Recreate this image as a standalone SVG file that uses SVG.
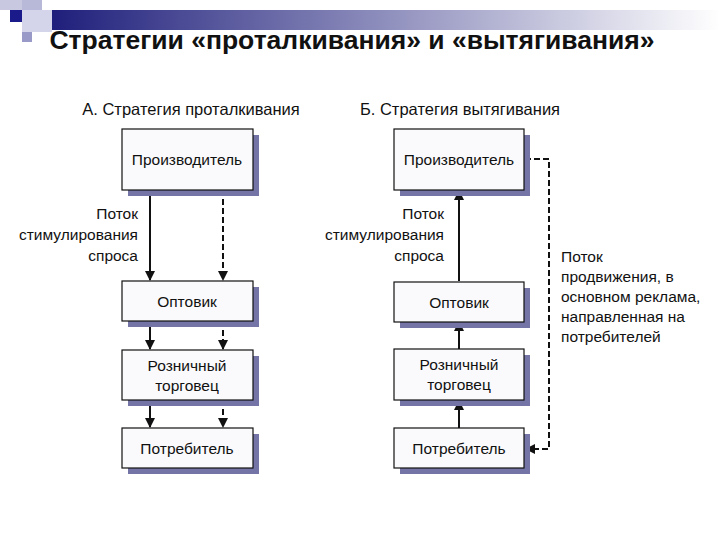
<svg xmlns="http://www.w3.org/2000/svg" width="720" height="540" viewBox="0 0 720 540">
<style>
text{font-family:"Liberation Sans",Arial,sans-serif;fill:#111}
.b{fill:#fafafc;stroke:#111;stroke-width:1.2}
.s{fill:#7474a6}
.t{font-size:15.5px;text-anchor:middle}
.l{font-size:15.5px}
.c{stroke:#111;stroke-width:2;fill:none}
.d{stroke:#111;stroke-width:2;fill:none;stroke-dasharray:6 3}
</style>
<defs>
<linearGradient id="g" x1="0" x2="1"><stop offset="0" stop-color="#1c1c7a"/><stop offset="1" stop-color="#ffffff"/></linearGradient>
<marker id="a" viewBox="0 0 10 10" refX="9" refY="5" markerWidth="5" markerHeight="5" orient="auto"><path d="M0,0L10,5L0,10z" fill="#111"/></marker>
</defs>
<rect width="720" height="540" fill="#fff"/>
<rect x="43" y="10" width="677" height="20" fill="url(#g)"/>
<rect x="0" y="0" width="22" height="10" fill="#c8c8e0"/>
<rect x="22" y="10" width="30" height="22" fill="#d4d4ea"/>
<rect x="10" y="10" width="12" height="12" fill="#1a1a8a"/>
<rect x="22" y="0" width="20" height="10" fill="#b8b8d8"/>
<rect x="22" y="32" width="10" height="10" fill="#9a9ac8"/>
<text x="352" y="49" font-size="26.5" font-weight="bold" text-anchor="middle">Стратегии «проталкивания» и «вытягивания»</text>
<text x="191" y="115" font-size="16.5" text-anchor="middle">А. Стратегия проталкивания</text>
<text x="460" y="115" font-size="16.5" text-anchor="middle">Б. Стратегия вытягивания</text>
<g id="connectors">
<line class="c" x1="150" y1="190" x2="150" y2="280" marker-end="url(#a)"/>
<line class="d" x1="223" y1="190" x2="223" y2="280" marker-end="url(#a)"/>
<line class="c" x1="150" y1="321" x2="150" y2="349" marker-end="url(#a)"/>
<line class="d" x1="223" y1="321" x2="223" y2="349" marker-end="url(#a)"/>
<line class="c" x1="150" y1="400" x2="150" y2="427" marker-end="url(#a)"/>
<line class="d" x1="223" y1="400" x2="223" y2="427" marker-end="url(#a)"/>
<line class="c" x1="459" y1="281" x2="459" y2="191" marker-end="url(#a)"/>
<line class="c" x1="459" y1="349" x2="459" y2="322" marker-end="url(#a)"/>
<line class="c" x1="459" y1="428" x2="459" y2="401" marker-end="url(#a)"/>
<path class="d" d="M525,159H549V449H526" marker-end="url(#a)"/>
</g>
<g id="labels">
<text class="l" text-anchor="end" x="138" y="219">Поток</text>
<text class="l" text-anchor="end" x="138" y="240">стимулирования</text>
<text class="l" text-anchor="end" x="138" y="261">спроса</text>
<text class="l" text-anchor="end" x="444" y="219">Поток</text>
<text class="l" text-anchor="end" x="444" y="240">стимулирования</text>
<text class="l" text-anchor="end" x="444" y="261">спроса</text>
<text class="l" x="561" y="262">Поток</text>
<text class="l" x="561" y="282">продвижения, в</text>
<text class="l" x="561" y="302">основном реклама,</text>
<text class="l" x="561" y="322">направленная на</text>
<text class="l" x="561" y="342">потребителей</text>
</g>
<g id="a-prod"><rect class="s" x="128" y="135" width="131" height="61"/><rect class="b" x="122" y="129" width="131" height="61"/><text class="t" x="187" y="165">Производитель</text></g>
<g id="a-whole"><rect class="s" x="128" y="287" width="131" height="40"/><rect class="b" x="122" y="281" width="131" height="40"/><text class="t" x="187" y="307">Оптовик</text></g>
<g id="a-retail"><rect class="s" x="128" y="356" width="131" height="50"/><rect class="b" x="122" y="350" width="131" height="50"/><text class="t" x="187" y="371">Розничный</text><text class="t" x="187" y="391">торговец</text></g>
<g id="a-cons"><rect class="s" x="128" y="434" width="131" height="40"/><rect class="b" x="122" y="428" width="131" height="40"/><text class="t" x="187" y="454">Потребитель</text></g>
<g id="b-prod"><rect class="s" x="400" y="135" width="130" height="61"/><rect class="b" x="394" y="129" width="130" height="61"/><text class="t" x="459" y="165">Производитель</text></g>
<g id="b-whole"><rect class="s" x="400" y="288" width="130" height="40"/><rect class="b" x="394" y="282" width="130" height="40"/><text class="t" x="459" y="308">Оптовик</text></g>
<g id="b-retail"><rect class="s" x="400" y="355" width="130" height="51"/><rect class="b" x="394" y="349" width="130" height="51"/><text class="t" x="459" y="370">Розничный</text><text class="t" x="459" y="390">торговец</text></g>
<g id="b-cons"><rect class="s" x="400" y="434" width="130" height="40"/><rect class="b" x="394" y="428" width="130" height="40"/><text class="t" x="459" y="454">Потребитель</text></g>
</svg>
